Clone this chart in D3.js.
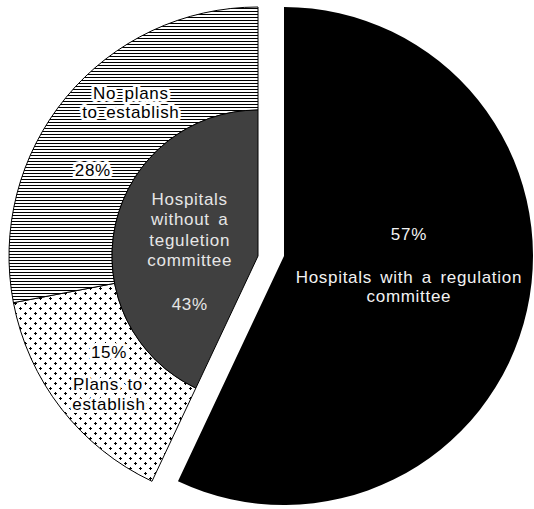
<!DOCTYPE html>
<html>
<head>
<meta charset="utf-8">
<script src="https://cdn.jsdelivr.net/npm/d3@7/dist/d3.min.js"></script>
<style>
  html, body { margin: 0; padding: 0; background: #fff; }
  svg { display: block; }
  text { font-family: "Liberation Sans", Arial, sans-serif; font-size: 17px; letter-spacing: 0.7px; word-spacing: 3px; }
</style>
</head>
<body>
<svg id="chart" width="534" height="509"></svg>
<script>
// Main split: hospitals with / without a regulation committee (percent)
const mainCategories = ["with", "without"];
const mainValues = [57, 43];
const mainLabels = [
  ["57%", "", "Hospitals with a regulation", "committee"],
  ["Hospitals", "without a", "teguletion", "committee", "", "43%"]
];
// Breakdown of hospitals without a committee (percent of all hospitals)
const subCategories = ["plans", "noPlans"];
const subValues = [15, 28];
const subLabels = [
  ["15%", "Plans to", "establish"],
  ["No plans", "to establish", "28%"]
];

const svg = d3.select("#chart");
const outerR = 249, innerR = 146;
const centerY = 256;
const leftCX = 258, rightCX = 284;

// Fill patterns for the breakdown ring
const defs = svg.append("defs");
const hatch = defs.append("pattern").attr("id", "hlines")
  .attr("patternUnits", "userSpaceOnUse").attr("width", 6).attr("height", 3);
hatch.append("rect").attr("width", 6).attr("height", 3).attr("fill", "#fff");
hatch.append("rect").attr("y", 1).attr("width", 6).attr("height", 1).attr("fill", "#000");

const dots = defs.append("pattern").attr("id", "dots")
  .attr("patternUnits", "userSpaceOnUse").attr("width", 10).attr("height", 10);
dots.append("rect").attr("width", 10).attr("height", 10).attr("fill", "#fff");
[[2, 2], [7, 7]].forEach(([x, y]) => {
  dots.append("rect").attr("x", x - 1).attr("y", y).attr("width", 3).attr("height", 1).attr("fill", "#000");
  dots.append("rect").attr("x", x).attr("y", y - 1).attr("width", 1).attr("height", 3).attr("fill", "#000");
});

const pie = d3.pie().sort(null).value(d => d);
const mainArcs = pie(mainValues);
const subPie = d3.pie().sort(null).value(d => d)
  .startAngle(mainArcs[1].startAngle).endAngle(mainArcs[1].endAngle);
const subArcs = subPie(subValues);

const fullArc = d3.arc().innerRadius(0).outerRadius(outerR);
const coreArc = d3.arc().innerRadius(0).outerRadius(innerR);
const ringArc = d3.arc().innerRadius(innerR).outerRadius(outerR);

const polar = (angle, r) => [Math.sin(angle) * r, -Math.cos(angle) * r];
const mid = a => (a.startAngle + a.endAngle) / 2;

// Exploded slice: hospitals with a committee
const gRight = svg.append("g").attr("transform", `translate(${rightCX},${centerY})`);
gRight.append("path").attr("d", fullArc(mainArcs[0])).attr("fill", "#000");

// Remaining half: core slice and the breakdown ring around it
const gLeft = svg.append("g").attr("transform", `translate(${leftCX},${centerY})`);
const ringFills = ["url(#dots)", "url(#hlines)"];
subArcs.forEach((a, i) => {
  gLeft.append("path").attr("d", ringArc(a)).attr("fill", ringFills[i])
    .attr("stroke", "#000").attr("stroke-width", 1);
});
gLeft.append("path").attr("d", coreArc(mainArcs[1])).attr("fill", "#404040")
  .attr("stroke", "#000").attr("stroke-width", 1);

// Labels inside the black slice
{
  const [ax, ay] = polar(mid(mainArcs[0]), 128);
  const dys = [-44, -23, -1, 18];
  mainLabels[0].forEach((t, i) => {
    if (!t) return;
    gRight.append("text").attr("x", ax).attr("y", ay + dys[i])
      .attr("text-anchor", "middle").attr("fill", "#f2f2f2").text(t);
  });
}
// Labels inside the grey core
{
  const [ax, ay] = polar(mid(mainArcs[1]), 70);
  const dys = [-36, -15.5, 5, 25.5, 46, 69];
  mainLabels[1].forEach((t, i) => {
    if (!t) return;
    gLeft.append("text").attr("x", ax).attr("y", ay + dys[i])
      .attr("text-anchor", "middle").attr("fill", "#e6e6e6").text(t);
  });
}
// Ring labels with a white halo over the patterns
const ringMid = (innerR + outerR) / 2;
const ringOffsets = [
  [[7, -19], [6, 13], [7, 33]],
  [[25, -31], [25, -12], [-13, 46]]
];
subArcs.forEach((a, i) => {
  const [cx, cy] = polar(mid(a), ringMid);
  subLabels[i].forEach((t, j) => {
    gLeft.append("text").attr("x", cx + ringOffsets[i][j][0]).attr("y", cy + ringOffsets[i][j][1])
      .attr("text-anchor", "middle").attr("fill", "#000")
      .attr("stroke", "#fff").attr("stroke-width", 6).attr("stroke-linejoin", "round")
      .attr("paint-order", "stroke").text(t);
  });
});
</script>
</body>
</html>
